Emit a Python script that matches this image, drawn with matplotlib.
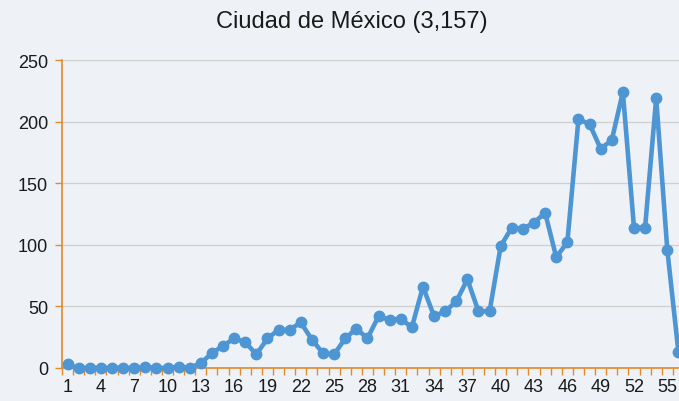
import numpy as np
import matplotlib
matplotlib.use("Agg")
import matplotlib.pyplot as plt
from matplotlib.ticker import FixedLocator

plt.rcParams["font.family"] = ["Liberation Sans", "DejaVu Sans"]

title = "Ciudad de México (3,157)"
weeks = list(range(1, 57))
cases = [3, 0, 0, 0, 0, 0, 0, 1, 0, 0,
         1, 0, 4, 12, 18, 24, 21, 11, 24, 31,
         31, 37, 23, 12, 11, 24, 32, 24, 42, 39,
         40, 33, 66, 42, 46, 54, 72, 46, 46, 99,
         114, 113, 118, 126, 90, 102, 202, 198, 178, 185,
         224, 114, 114, 219, 96, 13]
tick_labels = list(range(1, 57, 3))

bg = "#eef2f7"
orange = "#e08a2c"
blue = "#4e95d3"

fig = plt.figure(figsize=(6.79, 4.02), dpi=100, facecolor=bg)
ax = fig.add_axes([0.0913, 0.0821, 0.916, 0.766])
ax.set_facecolor(bg)

ax.plot(weeks, cases, color=blue, lw=3.3, marker="o", ms=7.5, clip_on=False, zorder=3)

ax.set_xlim(0.5, 56.5)
ax.set_ylim(0, 250)
ax.set_yticks(range(0, 251, 50))
ax.set_xticks(tick_labels)
ax.xaxis.set_minor_locator(FixedLocator(np.arange(0.5, 57, 1)))
ax.tick_params(axis="x", which="major", length=0, labelsize=13, pad=7, labelcolor="#1a1a1a")
ax.tick_params(axis="x", which="minor", length=5, color=orange, width=1)
ax.tick_params(axis="y", length=5, color=orange, width=1, labelsize=13, pad=5, labelcolor="#1a1a1a")

ax.yaxis.grid(True, color="#d0d0d0", lw=1)
ax.set_axisbelow(True)
for s in ["top", "right"]:
    ax.spines[s].set_visible(False)
for s in ["left", "bottom"]:
    ax.spines[s].set_color(orange)
    ax.spines[s].set_linewidth(1.2)

fig.text(0.518, 0.945, title, ha="center", va="center", fontsize=17, color="#1a1a1a")

fig.savefig("out.png", dpi=100, facecolor=bg)
